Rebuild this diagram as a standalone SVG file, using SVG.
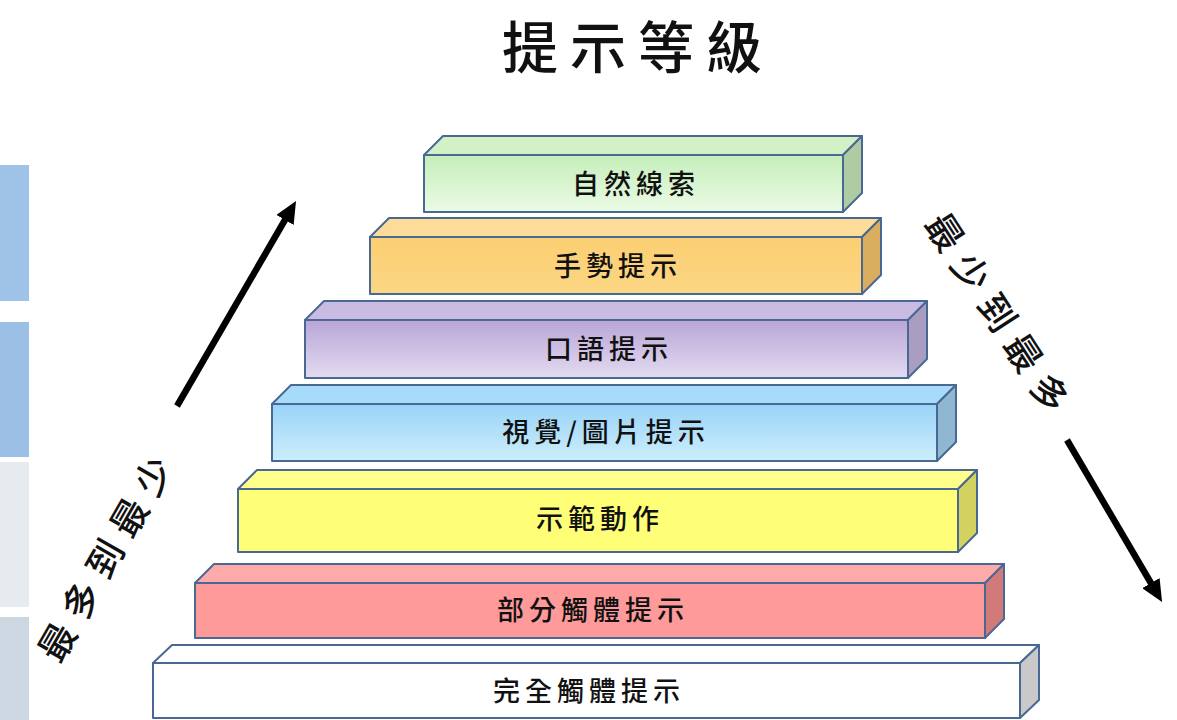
<svg xmlns="http://www.w3.org/2000/svg" width="1177" height="720" viewBox="0 0 1177 720">
<defs>
<style>
.face{stroke:#4a6894;stroke-width:2;stroke-linejoin:round}
.lbl{font-family:"Noto Sans CJK TC","Noto Sans CJK SC",sans-serif;font-size:27px;font-weight:500;fill:#111;text-anchor:middle;letter-spacing:5px}
.side{font-family:"Noto Sans CJK TC","Noto Sans CJK SC",sans-serif;font-size:37px;font-weight:500;fill:#111;text-anchor:middle;dominant-baseline:central;letter-spacing:11px}
.title{font-family:"Noto Sans CJK TC","Noto Sans CJK SC",sans-serif;font-size:56px;font-weight:500;fill:#111;text-anchor:middle;letter-spacing:12px}
.arrow{stroke:#000;stroke-width:6.5;fill:none}
</style>
<marker id="ah" viewBox="0 0 22 20" refX="8" refY="10" markerWidth="22" markerHeight="20" markerUnits="userSpaceOnUse" orient="auto">
<path d="M0,0 L22,10 L0,20 z" fill="#000"/>
</marker>
<linearGradient id="gGreen" x1="0" y1="0" x2="0" y2="1"><stop offset="0" stop-color="#c4eeba"/><stop offset="1" stop-color="#ecfbe6"/></linearGradient>
<linearGradient id="gOrange" x1="0" y1="0" x2="0" y2="1"><stop offset="0" stop-color="#fbcf72"/><stop offset="1" stop-color="#fcd684"/></linearGradient>
<linearGradient id="gPurple" x1="0" y1="0" x2="0" y2="1"><stop offset="0" stop-color="#b9a5d6"/><stop offset="1" stop-color="#e3dbf1"/></linearGradient>
<linearGradient id="gBlue" x1="0" y1="0" x2="0" y2="1"><stop offset="0" stop-color="#98d3f7"/><stop offset="1" stop-color="#cdeefc"/></linearGradient>
</defs>
<rect width="1177" height="720" fill="#ffffff"/>

<g id="left-panels">
<rect x="0" y="165" width="29" height="136" fill="#9fc3e7"/>
<rect x="0" y="322" width="29" height="135" fill="#9cc0e5"/>
<rect x="0" y="462" width="29" height="145" fill="#e6ebf0"/>
<rect x="0" y="617" width="29" height="103" fill="#cdd7e1"/>
</g>

<g id="title"><text class="title" x="638" y="68">提示等級</text></g>

<g id="bar-white">
<polygon class="face" points="153,663 172,645 1039,645 1020,663" fill="#ffffff"/>
<polygon class="face" points="1020,663 1039,645 1039,700 1020,718" fill="#c9c9c9"/>
<rect class="face" x="153" y="663" width="867" height="55" fill="#ffffff"/>
<text class="lbl" x="589" y="701">完全觸體提示</text>
</g>

<g id="bar-pink">
<polygon class="face" points="195,583 214,564 1004,564 985,583" fill="#ffaaaa"/>
<polygon class="face" points="985,583 1004,564 1004,619 985,638" fill="#d27a7a"/>
<rect class="face" x="195" y="583" width="790" height="55" fill="#ff9a9a"/>
<text class="lbl" x="593" y="620">部分觸體提示</text>
</g>

<g id="bar-yellow">
<polygon class="face" points="238,489 257,470 977,470 958,489" fill="#ffff8c"/>
<polygon class="face" points="958,489 977,470 977,533 958,552" fill="#d3d260"/>
<rect class="face" x="238" y="489" width="720" height="63" fill="#ffff77"/>
<text class="lbl" x="600" y="529">示範動作</text>
</g>

<g id="bar-blue">
<polygon class="face" points="272,404 291,385 956,385 937,404" fill="#a6dbf9"/>
<polygon class="face" points="937,404 956,385 956,442 937,461" fill="#8fb7d2"/>
<rect class="face" x="272" y="404" width="665" height="57" fill="url(#gBlue)"/>
<text class="lbl" x="606" y="442">視覺/圖片提示</text>
</g>

<g id="bar-purple">
<polygon class="face" points="305,320 324,301 927,301 908,320" fill="#c9bbe2"/>
<polygon class="face" points="908,320 927,301 927,359 908,378" fill="#a99dc1"/>
<rect class="face" x="305" y="320" width="603" height="58" fill="url(#gPurple)"/>
<text class="lbl" x="609" y="359">口語提示</text>
</g>

<g id="bar-orange">
<polygon class="face" points="370,237 389,218 881,218 862,237" fill="#fddb98"/>
<polygon class="face" points="862,237 881,218 881,275 862,294" fill="#d9ae5e"/>
<rect class="face" x="370" y="237" width="492" height="57" fill="url(#gOrange)"/>
<text class="lbl" x="618" y="276">手勢提示</text>
</g>

<g id="bar-green">
<polygon class="face" points="424,155 443,136 862,136 843,155" fill="#d3f1c6"/>
<polygon class="face" points="843,155 862,136 862,193 843,212" fill="#afcba3"/>
<rect class="face" x="424" y="155" width="419" height="57" fill="url(#gGreen)"/>
<text class="lbl" x="636" y="194">自然線索</text>
</g>

<g id="connectors">
<line class="arrow" x1="177" y1="406" x2="289" y2="213" marker-end="url(#ah)"/>
<line class="arrow" x1="1067" y1="440" x2="1155" y2="590" marker-end="url(#ah)"/>
</g>

<g id="side-labels">
<text class="side" transform="translate(106,553) rotate(-60)">最多到最少</text>
<text class="side" transform="translate(1002,316) rotate(57)">最少到最多</text>
</g>
</svg>
